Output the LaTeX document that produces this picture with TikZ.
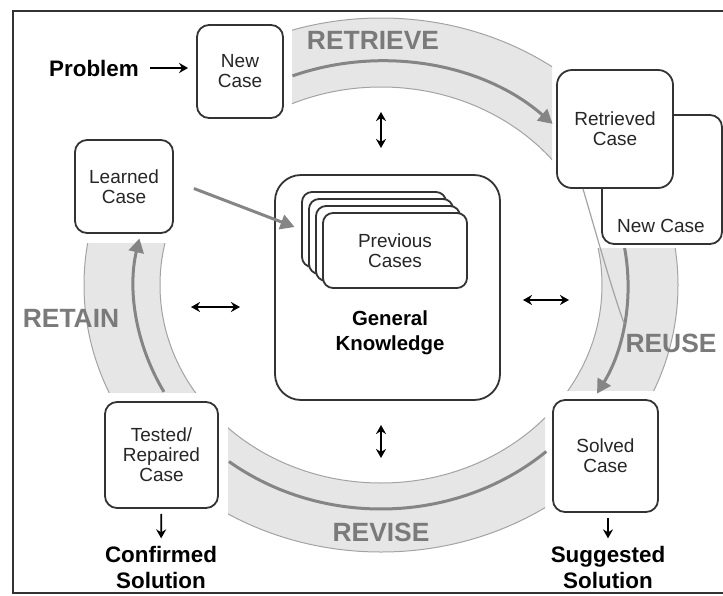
\documentclass[tikz,border=0pt]{standalone}
\usepackage{fontspec}
\setmainfont{Liberation Sans}
\usetikzlibrary{arrows.meta,positioning}

\definecolor{bandfill}{HTML}{E6E6E6}
\definecolor{bandedge}{HTML}{A3A3A3}
\definecolor{flowgray}{HTML}{858585}
\definecolor{labelgray}{HTML}{7A7A7A}
\definecolor{boxline}{HTML}{333333}

\tikzset{
  casebox/.style={draw=boxline, line width=0.9pt, fill=white, rounded corners=6pt,
    align=center, inner sep=0pt, text=black!85, font=\fontsize{9.5}{10}\selectfont},
  boxtext/.style={inner sep=0pt, text=black!85, font=\fontsize{9.5}{10}\selectfont},
  card/.style={casebox, rounded corners=5pt, minimum width=72pt, minimum height=37.5pt},
  boldtext/.style={align=center, inner sep=0pt, font=\fontsize{11.2}{13}\selectfont\bfseries},
  phase/.style={inner sep=0pt, text=labelgray, font=\fontsize{13.2}{15}\selectfont\bfseries},
  cyclearrow/.style={draw=flowgray, line width=1.5pt, -{Triangle[length=7pt,width=7.5pt]}},
  cycleline/.style={draw=flowgray, line width=1.5pt},
  kbarrow/.style={line width=0.9pt, {Stealth[length=4.5pt,width=5pt]}-{Stealth[length=4.5pt,width=5pt]}},
  resultarrow/.style={line width=0.9pt, -{Stealth[length=4.5pt,width=5pt]}}
}

\begin{document}
\begin{tikzpicture}[x=0.5pt, y=0.5pt]
\useasboundingbox (0,0) rectangle (723,-595);
% frame (open on the right)
\draw[boxline, line width=1pt] (723,-11) -| (13,-593) -- (723,-593);

% case boxes
\node[casebox, minimum width=43pt, minimum height=46.5pt] (newcase) at (240,-71.5) {New\\Case};
\node[casebox, minimum width=60pt, minimum height=64.5pt] (behindcase) at (662,-179.5) {};
\node[boxtext] (behindtext) at (661,-226) {New Case};
\node[casebox, rounded corners=7.5pt, minimum width=58pt, minimum height=59pt] (retrieved) at (615,-129) {Retrieved\\Case};
\node[casebox, minimum width=49pt, minimum height=46.5pt] (learned) at (124,-186.5) {Learned\\Case};
\node[casebox, minimum width=56.5pt, minimum height=53pt] (tested) at (161.5,-455) {Tested/\\Repaired\\Case};
\node[casebox, minimum width=52.5pt, minimum height=56pt] (solved) at (605.5,-456) {Solved\\Case};

% knowledge base
\node[casebox, rounded corners=13pt, minimum width=112.5pt, minimum height=112.5pt] (gk) at (387.5,-287.5) {};
\foreach \i in {0,1,2}
  \node[card] (card\i) at (374+7*\i,-229.5-7*\i) {};
\node[card] (prevcases) at (395,-250.5) {Previous\\Cases};
\node[boldtext, font=\fontsize{10.2}{12.5}\selectfont\bfseries] (gktext) at (390,-333) {General\\Knowledge};

% inputs and outputs
\node[boldtext] (problem) at (94,-68) {Problem};
\node[boldtext] (confirmed) at (161,-567) {Confirmed\\Solution};
\node[boldtext] (suggested) at (608,-567) {Suggested\\Solution};

% ring segments
\coordinate (ring) at (381,-285);
\foreach \xa/\ya/\xb/\yb in {292/0/552/-200, 450/-248/723/-390, 228/-380/545/-595, 0/-243/300/-392}{
  \begin{scope}
    \clip (\xa,\ya) rectangle (\xb,\yb);
    \fill[bandfill, even odd rule] (ring) ellipse[x radius=297, y radius=267] (ring) ellipse[x radius=221, y radius=198];
    \draw[bandedge, line width=0.5pt] (ring) ellipse[x radius=297, y radius=267] (ring) ellipse[x radius=221, y radius=198];
  \end{scope}
}
\draw[cyclearrow] ([shift={(111:247 and 224)}]ring) arc[start angle=111, end angle=46, x radius=247, y radius=224];
\draw[cyclearrow] ([shift={(9.5:247 and 224)}]ring) arc[start angle=9.5, end angle=-29, x radius=247, y radius=224];
\draw[cycleline] ([shift={(-128:247 and 224)}]ring) arc[start angle=-128, end angle=-48, x radius=247, y radius=224];
\draw[cyclearrow] ([shift={(208.5:247 and 224)}]ring) arc[start angle=208.5, end angle=168, x radius=247, y radius=224];
\draw[bandedge, line width=0.6pt] ([xshift=-16pt]retrieved.south) .. controls (598,-240) and (612,-290) .. ([shift={(-10:247 and 224)}]ring);

\node[phase] (retrieve) at (373,-40) {RETRIEVE};
\node[phase] (reuse) at (671,-343) {REUSE};
\node[phase] (revise) at (381,-532) {REVISE};
\node[phase] (retain) at (71,-318) {RETAIN};

% arrows
\draw[cyclearrow, shorten >=3.5pt] ([xshift=10pt,yshift=-1pt]learned.east) -- (card0.west);
\draw[resultarrow, shorten <=5.5pt, shorten >=4pt] (problem.east) -- (problem.east -| newcase.west);
\draw[resultarrow, shorten <=2.5pt, shorten >=3.5pt] (tested) -- (confirmed);
\draw[resultarrow, shorten <=2.5pt, shorten >=3.5pt] (solved.south -| suggested) -- (suggested);

\coordinate (topa) at (381,-112);    \coordinate (topb) at (381,-148);
\coordinate (bota) at (381,-425);    \coordinate (botb) at (381,-458);
\coordinate (lefta) at (191,-307);   \coordinate (leftb) at (240,-307);
\coordinate (righta) at (523,-300);  \coordinate (rightb) at (569,-300);
\draw[kbarrow] (topa) -- (topb);
\draw[kbarrow] (bota) -- (botb);
\draw[kbarrow] (lefta) -- (leftb);
\draw[kbarrow] (righta) -- (rightb);
\end{tikzpicture}
\end{document}
